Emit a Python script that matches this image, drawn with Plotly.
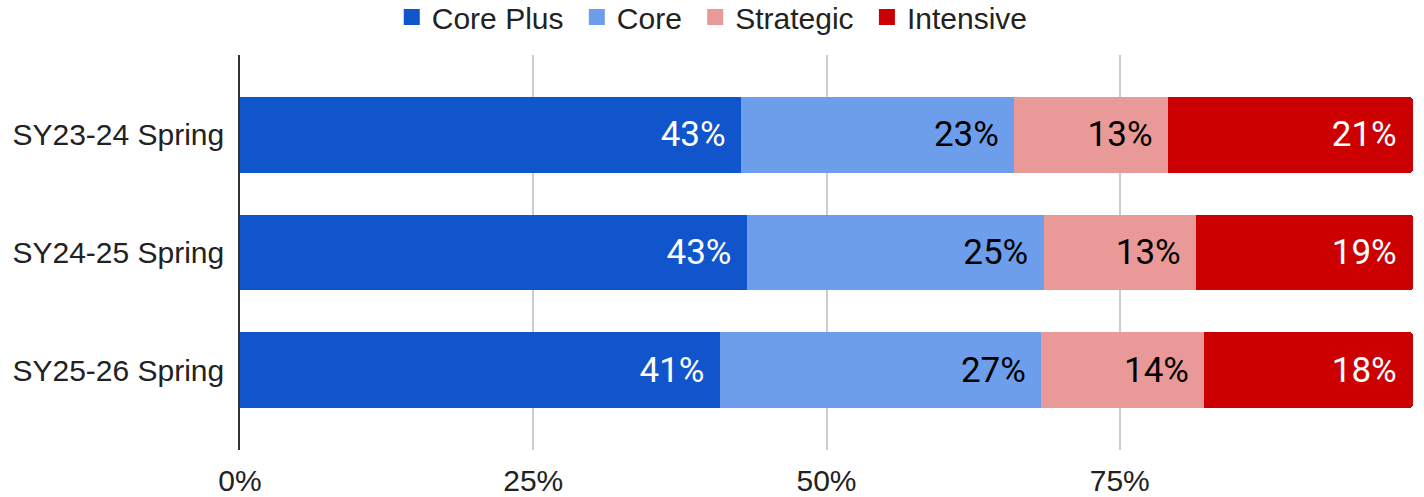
import plotly.graph_objects as go

categories = ["SY23-24 Spring", "SY24-25 Spring", "SY25-26 Spring"]
series_names = ["Core Plus", "Core", "Strategic", "Intensive"]
core_plus = [42.7, 43.2, 40.9]
core = [23.3, 25.3, 27.4]
strategic = [13.1, 13.0, 13.9]
intensive = [20.9, 18.5, 17.8]
core_plus_lbl = ["43%", "43%", "41%"]
core_lbl = ["23%", "25%", "27%"]
strategic_lbl = ["13%", "13%", "14%"]
intensive_lbl = ["21%", "19%", "18%"]
tick_vals = [0, 25, 50, 75, 100]
tick_text = ["0%", "25%", "50%", "75%", ""]

colors = ["#1155CC", "#6D9EEB", "#EA9999", "#CC0000"]
text_colors = ["white", "black", "black", "white"]
values = [core_plus, core, strategic, intensive]
labels = [core_plus_lbl, core_lbl, strategic_lbl, intensive_lbl]

fig = go.Figure()
for i, name in enumerate(series_names):
    marker = dict(color=colors[i], line=dict(width=0))
    if i == 3:
        marker["cornerradius"] = 4
    fig.add_trace(go.Bar(
        y=categories, x=values[i], name=name, orientation="h",
        marker=marker,
        text=[t + "\u00a0\u200a" for t in labels[i]],
        textposition="inside", insidetextanchor="end",
        textfont=dict(family="Roboto", size=35, color=text_colors[i]),
        constraintext="none",
        hoverinfo="skip",
        showlegend=False,
        legendgroup=name,
    ))
# legend entries with larger square swatches
for i, name in enumerate(series_names):
    fig.add_trace(go.Scatter(
        x=[None], y=[None], mode="markers", name=name + "\u00a0",
        marker=dict(symbol="square", size=18, color=colors[i]),
        legendgroup=name, showlegend=True, hoverinfo="skip",
    ))

fig.update_layout(
    barmode="stack",
    bargap=0.356,
    width=1424, height=497,
    margin=dict(l=240, r=11, t=55, b=47, autoexpand=False),
    paper_bgcolor="white", plot_bgcolor="white",
    font=dict(family="Liberation Sans, Arial", size=30, color="#222222"),
    legend=dict(
        orientation="h", xref="container", yref="paper",
        x=0.503, xanchor="center", y=1.162, yanchor="top",
        font=dict(size=30, color="#222222"),
        traceorder="normal", itemsizing="trace",
    ),
    showlegend=True,
)
fig.update_xaxes(
    range=[0, 100], tickvals=tick_vals, ticktext=tick_text,
    showgrid=True, gridcolor="#cccccc", gridwidth=1.5,
    zeroline=False, showline=False,
    ticks="outside", ticklen=4, tickcolor="rgba(0,0,0,0)",
    tickfont=dict(size=30, color="#222222"),
    automargin=False, fixedrange=True,
)
fig.update_yaxes(
    categoryorder="array", categoryarray=categories,
    range=[2.68, -0.68],
    showgrid=False, zeroline=False,
    showline=True, linecolor="#333333", linewidth=1.5,
    ticks="outside", ticklen=8, tickcolor="rgba(0,0,0,0)",
    tickfont=dict(size=30, color="#222222"),
    automargin=False, fixedrange=True,
)

fig.write_html("out.html", config={"displayModeBar": False},
               post_script="document.body.style.margin='0px';")
